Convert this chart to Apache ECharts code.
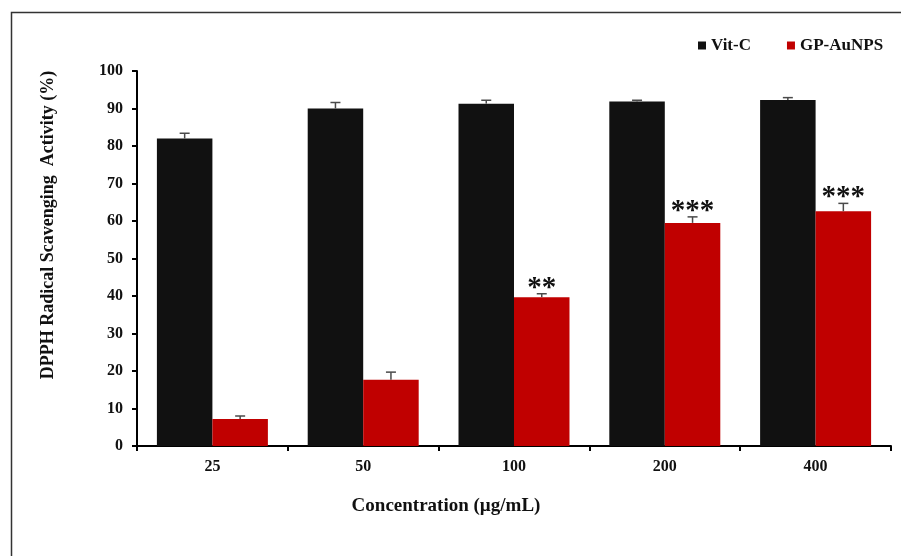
<!DOCTYPE html>
<html><head><meta charset="utf-8">
<script src="https://cdn.jsdelivr.net/npm/echarts@6/dist/echarts.min.js"></script>
<style>html,body{margin:0;padding:0;background:#fff}#c{width:901px;height:556px}</style>
</head><body><div id="c"></div>
<script>
const categories = ['25', '50', '100', '200', '400'];
const vitC = [82.0, 90.0, 91.3, 91.9, 92.3];
const vitCErr = [1.4, 1.6, 0.9, 0.3, 0.6];
const gpAuNPS = [7.2, 17.7, 39.7, 59.5, 62.6];
const gpAuNPSErr = [0.8, 2.0, 0.9, 1.6, 2.1];
const gpSignificance = ['', '', '**', '***', '***'];
const seriesNames = ['Vit-C', 'GP-AuNPS'];
const yAxisTitle = 'DPPH Radical Scavenging  Activity (%)';
const xAxisTitle = 'Concentration (µg/mL)';

const FONT = '"Liberation Serif", "Times New Roman", serif';
const CAT_GAP = 0.264;

function errSeries(values, errs, stars, side) {
  return {
    type: 'custom',
    z: 5,
    silent: true,
    data: values.map((v, i) => [i, v, errs[i]]),
    renderItem: function (params, api) {
      const idx = api.value(0);
      const v = api.value(1);
      const e = api.value(2);
      const s = stars ? stars[idx] : '';
      const band = api.size([1, 0])[0];
      const bw = band * (1 - CAT_GAP) / 2;
      const top = api.coord([idx, v]);
      const cap = api.coord([idx, v + e]);
      const x = top[0] + side * bw / 2;
      const children = [
        { type: 'line', shape: { x1: x, y1: top[1], x2: x, y2: cap[1] }, style: { stroke: '#4a4a4a', lineWidth: 1.5 } },
        { type: 'line', shape: { x1: x - 5, y1: cap[1], x2: x + 5, y2: cap[1] }, style: { stroke: '#4a4a4a', lineWidth: 1.5 } }
      ];
      if (s) {
        children.push({
          type: 'text',
          style: { text: s, x: x, y: cap[1] + 9, align: 'center', verticalAlign: 'bottom',
            font: 'bold 29px ' + FONT, fill: '#111' }
        });
      }
      return { type: 'group', children: children };
    }
  };
}

const chart = echarts.init(document.getElementById('c'));
chart.setOption({
  animation: false,
  backgroundColor: '#fff',
  grid: { left: 137, right: 10, top: 71, bottom: 110 },
  legend: {
    data: seriesNames,
    top: 32, left: 693,
    icon: 'rect', itemWidth: 8, itemHeight: 8, itemGap: 36,
    textStyle: { fontFamily: FONT, fontWeight: 'bold', fontSize: 17, color: '#111' }
  },
  xAxis: {
    type: 'category',
    data: categories,
    axisLine: { lineStyle: { color: '#000', width: 2 } },
    axisTick: { show: true, length: 5, lineStyle: { color: '#000', width: 2 } },
    axisLabel: { margin: 13, fontFamily: FONT, fontWeight: 'bold', fontSize: 16, color: '#111' },
    splitLine: { show: false }
  },
  yAxis: {
    type: 'value', min: 0, max: 100, interval: 10,
    axisLine: { show: true, lineStyle: { color: '#000', width: 2 } },
    axisTick: { show: true, length: 5, lineStyle: { color: '#000', width: 2 } },
    axisLabel: { margin: 14, fontFamily: FONT, fontWeight: 'bold', fontSize: 16, color: '#111' },
    splitLine: { show: false }
  },
  graphic: [
    { type: 'rect', shape: { x: 11.5, y: 12.5, width: 1000, height: 1000 }, style: { fill: 'none', stroke: '#333', lineWidth: 1.5 }, silent: true },
    { type: 'text', x: 48, y: 225, rotation: Math.PI / 2,
      style: { text: yAxisTitle, align: 'center', verticalAlign: 'middle', font: 'bold 18px ' + FONT, fill: '#111' } },
    { type: 'text', x: 446, y: 506,
      style: { text: xAxisTitle, align: 'center', verticalAlign: 'middle', font: 'bold 19px ' + FONT, fill: '#111' } }
  ],
  series: [
    { name: seriesNames[0], type: 'bar', data: vitC, barGap: '0%', barCategoryGap: (CAT_GAP * 100) + '%',
      itemStyle: { color: '#111111' } },
    { name: seriesNames[1], type: 'bar', data: gpAuNPS, barGap: '0%', barCategoryGap: (CAT_GAP * 100) + '%',
      itemStyle: { color: '#c00000' } },
    errSeries(vitC, vitCErr, null, -1),
    errSeries(gpAuNPS, gpAuNPSErr, gpSignificance, 1)
  ]
});
</script></body></html>
